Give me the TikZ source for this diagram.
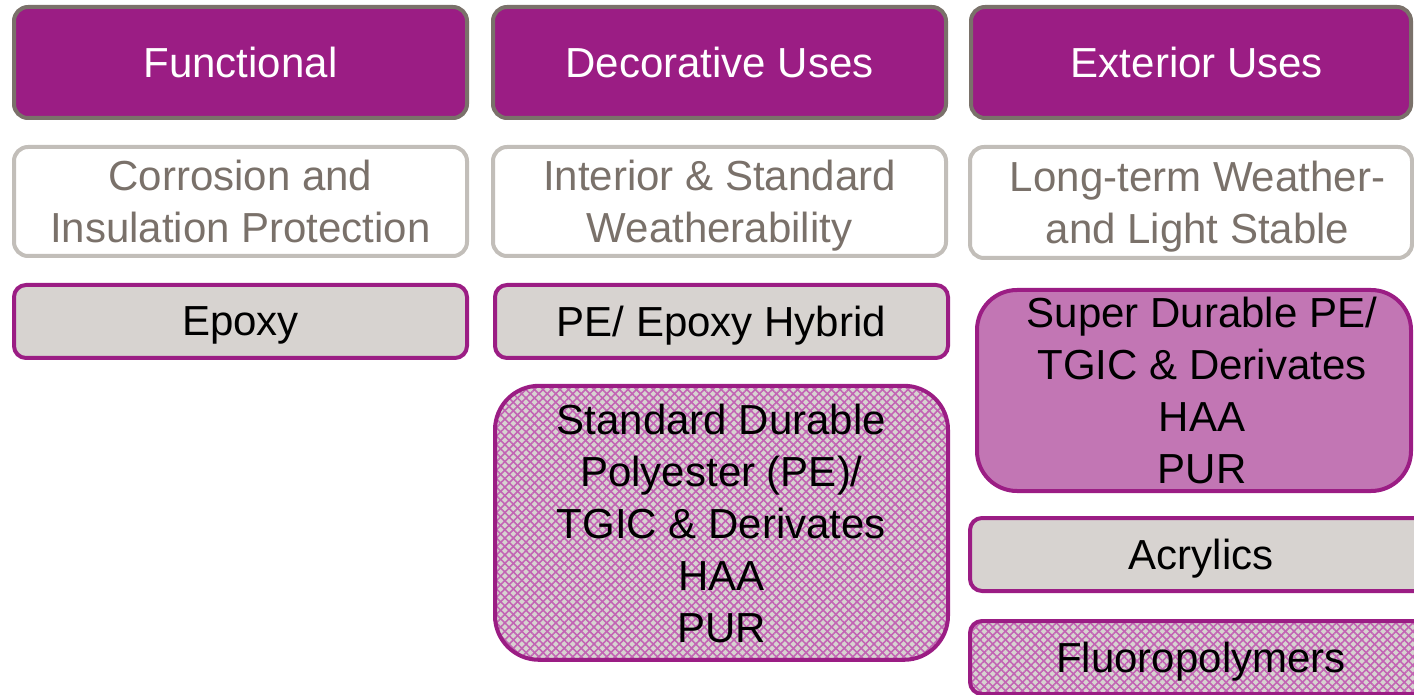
\documentclass[tikz,border=0pt]{standalone}
\usepackage{fontspec}
\setmainfont{Liberation Sans}
\usepackage{tikz}
\usetikzlibrary{positioning,patterns.meta}
\definecolor{plum}{RGB}{155,29,132}
\definecolor{taupe}{RGB}{122,113,106}
\definecolor{lightgrey}{RGB}{194,190,185}
\definecolor{stone}{RGB}{215,211,208}
\definecolor{orchid}{RGB}{194,118,180}
\definecolor{weave}{RGB}{194,100,180}
\newcommand\boxfont{\fontsize{21}{26}\selectfont}
\tikzset{
  headbox/.style={draw=taupe, line width=2pt, rounded corners=7pt, fill=plum,
    text=white, font=\boxfont, text depth=0pt, minimum width=226.5pt, minimum height=55.5pt, align=center},
  descbox/.style={draw=lightgrey, line width=2pt, rounded corners=7pt, fill=white,
    text=taupe, font=\boxfont, text depth=0pt, minimum width=226.5pt, minimum height=54.5pt, align=center, inner sep=1pt},
  resinbox/.style={draw=plum, line width=2pt, rounded corners=6pt, fill=stone,
    font=\boxfont, text depth=0pt, minimum width=226.5pt, minimum height=36.5pt, align=center},
  superbox/.style={resinbox, fill=orchid, rounded corners=20pt},
  weavebox/.style={draw=plum, line width=2pt, rounded corners=6pt,
    preaction={fill=stone},
    preaction={pattern={Lines[angle=-45,distance=3pt,line width=.8pt]}, pattern color=weave},
    pattern={Lines[angle=45,distance=3pt,line width=.8pt]}, pattern color=weave,
    font=\boxfont, text depth=0pt, minimum width=226.5pt, minimum height=36.5pt, align=center}
}
\begin{document}
\begin{tikzpicture}[node distance=12.5pt]
\useasboundingbox (0,0) rectangle (707pt,-347.5pt);
\clip (0,0) rectangle (707pt,-347.5pt);
% column heads
\node[headbox] (func) at (120.25pt,-31.25pt) {Functional};
\node[headbox] (deco) at (359.75pt,-31.25pt) {Decorative Uses};
\node[headbox, minimum width=220pt] (ext) at (595.5pt,-31.25pt) {\hspace*{6pt}Exterior Uses};
% requirements
\node[descbox, below=of func] (corr) {Corrosion and\\Insulation Protection};
\node[descbox, below=of deco] (inter) {Interior \& Standard\\Weatherability};
\node[descbox, below=of ext, minimum width=221pt, minimum height=55.5pt] (longterm)
  {\hspace*{6.5pt}Long-term Weather-\\\hspace*{6.5pt}and Light Stable};
% resins
\node[resinbox, below=of corr] (epoxy) {Epoxy};
\node[resinbox, below=of inter, xshift=1pt] (hybrid) {PE/ Epoxy Hybrid};
\node[weavebox, below=of hybrid, rounded corners=22pt, minimum height=137pt] (standard)
  {Standard Durable\\Polyester (PE)/\\TGIC \& Derivates\\HAA\\PUR};
\node[superbox, below=14pt of longterm, xshift=1.5pt, minimum width=217pt, minimum height=100.5pt] (super)
  {\hspace*{8pt}Super Durable PE/\\\hspace*{8pt}TGIC \& Derivates\\\hspace*{8pt}HAA\\\hspace*{8pt}PUR};
\node[resinbox, below=11.5pt of super, xshift=3.5pt, minimum width=231pt] (acryl) {Acrylics};
\node[weavebox, below=13pt of acryl, minimum width=231pt] (fluoro) {Fluoropolymers};
\end{tikzpicture}
\end{document}
